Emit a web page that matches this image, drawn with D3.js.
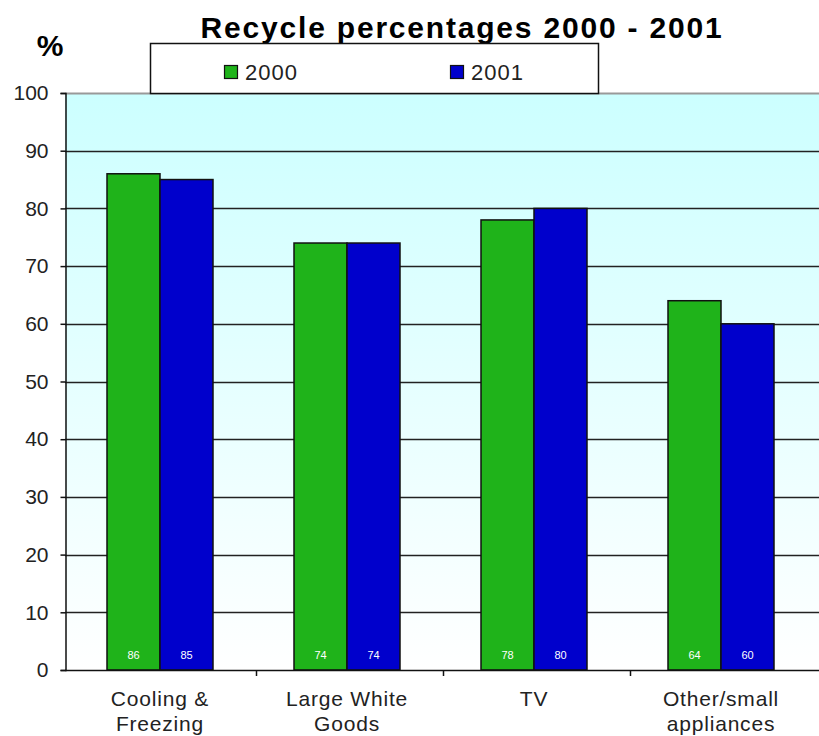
<!DOCTYPE html>
<html>
<head>
<meta charset="utf-8">
<script src="https://cdn.jsdelivr.net/npm/d3@7/dist/d3.min.js"></script>
<style>
html,body{margin:0;padding:0;background:#fff;}
svg{display:block;}
text{font-family:"Liberation Sans",Arial,sans-serif;}
</style>
</head>
<body>
<svg id="chart" width="819" height="736"></svg>
<script>
const categories = [["Cooling &","Freezing"],["Large White","Goods"],["TV"],["Other/small","appliances"]];
const categoryKeys = ["Cooling & Freezing","Large White Goods","TV","Other/small appliances"];
const seriesNames = ["2000","2001"];
const values2000 = [86,74,78,64];
const values2001 = [85,74,80,60];
const yTicks = [0,10,20,30,40,50,60,70,80,90,100];
const colors = ["#1fb31a","#0000cc"];

(function(){
const svg = d3.select("#chart");
const pLeft = 65, pRight = 819, pTop = 93, pBottom = 670;

const y = d3.scaleLinear().domain([0,100]).range([pBottom, pTop]);
const x = d3.scaleBand().domain(categoryKeys).range([66.5, 814.5]).padding(0);
const x1 = d3.scaleBand().domain(seriesNames).range([0,106]).padding(0);

// background gradient
const defs = svg.append("defs");
const grad = defs.append("linearGradient").attr("id","bg").attr("x1",0).attr("y1",0).attr("x2",0).attr("y2",1);
grad.append("stop").attr("offset","0%").attr("stop-color","#ccffff");
grad.append("stop").attr("offset","100%").attr("stop-color","#ffffff");
svg.append("rect").attr("x",pLeft).attr("y",pTop).attr("width",pRight-pLeft).attr("height",pBottom-pTop).attr("fill","url(#bg)");

// gridlines
svg.append("g").selectAll("line").data(yTicks.filter(d=>d>0)).join("line")
  .attr("x1",pLeft).attr("x2",pRight)
  .attr("y1",d=>Math.round(y(d))+0.5).attr("y2",d=>Math.round(y(d))+0.5)
  .attr("stroke",d=>d===100?"#999":"#222").attr("stroke-width",d=>d===100?2:1.3);

// y axis
const yAxis = d3.axisLeft(y).tickValues(yTicks).tickSize(5).tickPadding(12).tickFormat(d3.format("d"));
const gy = svg.append("g").attr("transform",`translate(${pLeft+0.5},0)`).call(yAxis);
gy.select(".domain").attr("stroke","#111").attr("stroke-width",1.5);
gy.selectAll(".tick line").attr("stroke","#111").attr("stroke-width",1.5);
gy.selectAll(".tick text").attr("font-size",21).attr("fill","#222").attr("font-family","'Liberation Sans',Arial,sans-serif");

// bars
const data = categoryKeys.map((c,i)=>({cat:c, vals:[values2000[i], values2001[i]]}));
const groups = svg.append("g").selectAll("g").data(data).join("g")
  .attr("transform",d=>`translate(${x(d.cat)+x.bandwidth()/2-53},0)`);
groups.selectAll("rect").data(d=>d.vals.map((v,j)=>({v, s:seriesNames[j], j}))).join("rect")
  .attr("x",d=>x1(d.s)).attr("width",x1.bandwidth())
  .attr("y",d=>y(d.v)).attr("height",d=>y(0)-y(d.v))
  .attr("fill",d=>colors[d.j]).attr("stroke","#111").attr("stroke-width",1.5);
groups.selectAll("text").data(d=>d.vals.map((v,j)=>({v, s:seriesNames[j], j}))).join("text")
  .attr("x",d=>x1(d.s)+x1.bandwidth()/2).attr("y",659)
  .attr("text-anchor","middle").attr("font-size",11).attr("fill","#fff")
  .text(d=>d.v);

// x axis
const xAxis = d3.axisBottom(x).tickValues([]).tickSize(0);
const gx = svg.append("g").attr("transform",`translate(0,${pBottom+0.5})`).call(xAxis);
gx.select(".domain").attr("d",`M${pLeft},0H${pRight}`).attr("stroke","#111").attr("stroke-width",1.5);
svg.append("g").selectAll("line").data(categoryKeys.slice(1)).join("line")
  .attr("x1",d=>Math.round(x(d))+2.5).attr("x2",d=>Math.round(x(d))+2.5)
  .attr("y1",pBottom).attr("y2",pBottom+6).attr("stroke","#111").attr("stroke-width",1.5);

// category labels
const cl = svg.append("g").selectAll("text").data(categoryKeys).join("text")
  .attr("x",d=>x(d)+x.bandwidth()/2).attr("y",706)
  .attr("text-anchor","middle").attr("font-size",21).attr("fill","#222").attr("letter-spacing","0.8px");
cl.each(function(d,i){
  const t = d3.select(this);
  categories[i].forEach((line,k)=>{
    t.append("tspan").attr("x",x(d)+x.bandwidth()/2).attr("dy",k===0?0:25).text(line);
  });
});

// title
svg.append("text").attr("x",462).attr("y",38).attr("text-anchor","middle")
  .attr("font-size",30).attr("font-weight","bold").attr("fill","#000").attr("letter-spacing","1.8px")
  .text("Recycle percentages 2000 - 2001");
svg.append("text").attr("x",50).attr("y",56).attr("text-anchor","middle")
  .attr("font-size",30).attr("font-weight","bold").attr("fill","#000").text("%");

// legend
const lg = svg.append("g");
lg.append("rect").attr("x",150.5).attr("y",43.5).attr("width",448).attr("height",50)
  .attr("fill","#fff").attr("stroke","#111").attr("stroke-width",1.5);
const legX = [224, 450];
seriesNames.forEach((s,i)=>{
  lg.append("rect").attr("x",legX[i]+0.5).attr("y",65.5).attr("width",13).attr("height",13)
    .attr("fill",colors[i]).attr("stroke","#111").attr("stroke-width",1.2);
  lg.append("text").attr("x",legX[i]+21).attr("y",80).attr("font-size",22).attr("letter-spacing","1px")
    .attr("fill","#222").text(s);
});
})();
</script>
</body>
</html>
